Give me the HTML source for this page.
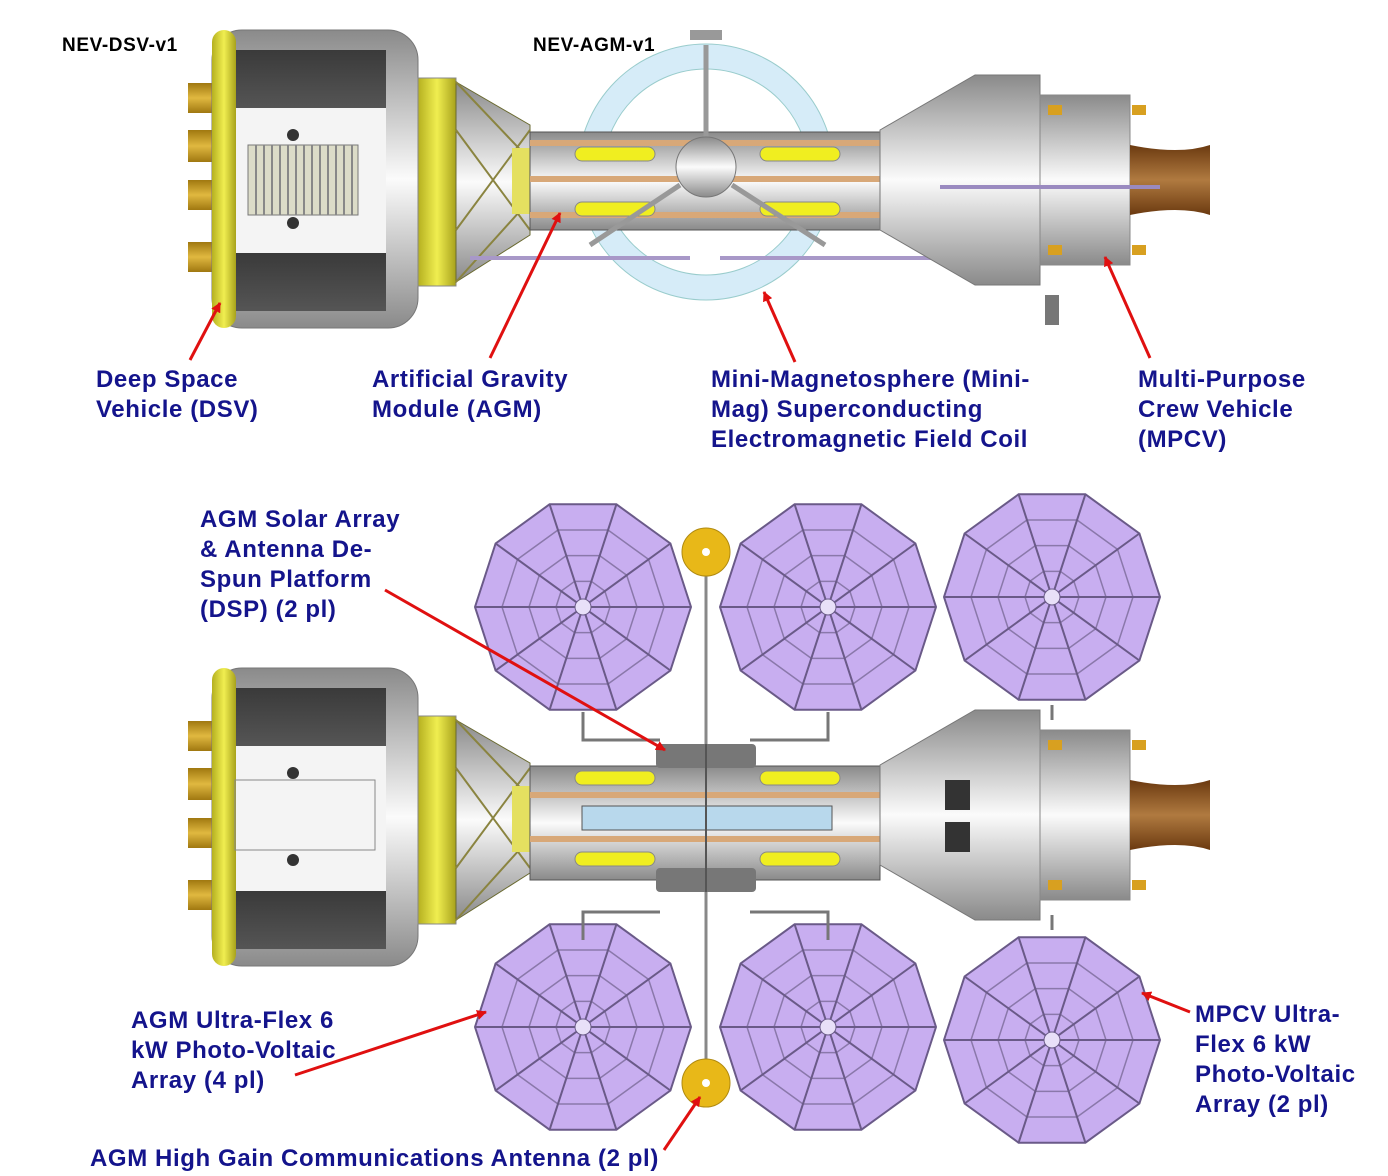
<!DOCTYPE html>
<html><head><meta charset="utf-8"><style>
html,body{margin:0;padding:0;background:#fff;}
svg{display:block;}
.lbl{font-family:"Liberation Sans",sans-serif;font-weight:bold;font-size:24px;letter-spacing:0.6px;fill:#14148c;}
.tit{font-family:"Liberation Sans",sans-serif;font-weight:bold;font-size:19px;letter-spacing:0.6px;fill:#000;}
</style></head><body>
<svg width="1388" height="1176" viewBox="0 0 1388 1176" xmlns="http://www.w3.org/2000/svg">
<defs>
<linearGradient id="gv" x1="0" y1="0" x2="0" y2="1"><stop offset="0" stop-color="#8a8a8a"/><stop offset="0.5" stop-color="#fbfbfb"/><stop offset="1" stop-color="#8a8a8a"/></linearGradient>
<linearGradient id="dk" x1="0" y1="0" x2="0" y2="1"><stop offset="0" stop-color="#3a3a3a"/><stop offset="1" stop-color="#555"/></linearGradient>
<linearGradient id="yl" x1="0" y1="0" x2="1" y2="0"><stop offset="0" stop-color="#b5b020"/><stop offset="0.5" stop-color="#f0ee50"/><stop offset="1" stop-color="#a8a21c"/></linearGradient>
<linearGradient id="br" x1="0" y1="0" x2="0" y2="1"><stop offset="0" stop-color="#6b3a10"/><stop offset="0.5" stop-color="#b07a40"/><stop offset="1" stop-color="#6b3a10"/></linearGradient>
<linearGradient id="gd" x1="0" y1="0" x2="0" y2="1"><stop offset="0" stop-color="#a07810"/><stop offset="0.5" stop-color="#e0b840"/><stop offset="1" stop-color="#a07810"/></linearGradient>
<marker id="ah" markerWidth="10" markerHeight="10" refX="9" refY="5" orient="auto" markerUnits="userSpaceOnUse" viewBox="0 0 10 10"><path d="M0,0 L10,5 L0,10 z" fill="#e01010"/></marker>

<g id="dsv">
  <rect x="-24" y="53" width="26" height="30" fill="url(#gd)"/>
  <rect x="-24" y="100" width="26" height="32" fill="url(#gd)"/>
  <rect x="-24" y="150" width="26" height="30" fill="url(#gd)"/>
  <rect x="-24" y="212" width="26" height="30" fill="url(#gd)"/>
  <rect x="0" y="0" width="206" height="298" rx="30" fill="url(#gv)" stroke="#777"/>
  <rect x="0" y="0" width="24" height="298" rx="12" fill="url(#yl)"/>
  <rect x="24" y="20" width="150" height="58" fill="url(#dk)"/>
  <rect x="24" y="223" width="150" height="58" fill="url(#dk)"/>
  <rect x="24" y="78" width="150" height="145" fill="#f4f4f4"/>
  <rect x="206" y="48" width="38" height="208" fill="url(#yl)" stroke="#888"/>
  <polygon points="244,52 318,95 318,205 244,252" fill="url(#gv)" stroke="#6a6a30"/>
  <path d="M244,52 L318,130 M244,252 L318,170 M244,100 L318,200 M244,200 L318,100" stroke="#8a8440" stroke-width="2"/>
  <rect x="300" y="118" width="18" height="66" fill="#e4e060"/>
</g>

<g id="sa">
  <polygon points="108,0 87.4,63.5 33.4,102.7 -33.4,102.7 -87.4,63.5 -108,0 -87.4,-63.5 -33.4,-102.7 33.4,-102.7 87.4,-63.5" fill="#c8aef0" stroke="#6a5a88" stroke-width="2"/>
  <polygon transform="scale(0.75)" points="108,0 87.4,63.5 33.4,102.7 -33.4,102.7 -87.4,63.5 -108,0 -87.4,-63.5 -33.4,-102.7 33.4,-102.7 87.4,-63.5" fill="none" stroke="#8a78aa" stroke-width="2"/>
  <polygon transform="scale(0.5)" points="108,0 87.4,63.5 33.4,102.7 -33.4,102.7 -87.4,63.5 -108,0 -87.4,-63.5 -33.4,-102.7 33.4,-102.7 87.4,-63.5" fill="none" stroke="#8a78aa" stroke-width="3"/>
  <polygon transform="scale(0.25)" points="108,0 87.4,63.5 33.4,102.7 -33.4,102.7 -87.4,63.5 -108,0 -87.4,-63.5 -33.4,-102.7 33.4,-102.7 87.4,-63.5" fill="none" stroke="#8a78aa" stroke-width="6"/>
  <path d="M-108,0 L108,0 M87.4,63.5 L-87.4,-63.5 M33.4,102.7 L-33.4,-102.7 M-33.4,102.7 L33.4,-102.7 M-87.4,63.5 L87.4,-63.5" stroke="#6a5a88" stroke-width="2"/>
  <circle r="8" fill="#e8e0f8" stroke="#6a5a88"/>
</g>

<g id="mpcv">
  <polygon points="0,55 95,0 160,0 160,210 95,210 0,155" fill="url(#gv)" stroke="#777"/>
  <rect x="160" y="20" width="90" height="170" fill="url(#gv)" stroke="#888"/>
  <path d="M250,70 Q300,80 330,70 L330,140 Q300,130 250,140z" fill="url(#br)"/>
  <rect x="168" y="30" width="14" height="10" fill="#d8a020"/>
  <rect x="252" y="30" width="14" height="10" fill="#d8a020"/>
  <rect x="168" y="170" width="14" height="10" fill="#d8a020"/>
  <rect x="252" y="170" width="14" height="10" fill="#d8a020"/>
</g>
</defs>

<text class="tit" x="62" y="51">NEV-DSV-v1</text>
<text class="tit" x="533" y="51">NEV-AGM-v1</text>

<!-- TOP -->
<use href="#dsv" x="212" y="30"/>
<rect x="248" y="145" width="110" height="70" fill="#dcdcc8" stroke="#777"/>
<path d="M256,145v70M264,145v70M272,145v70M280,145v70M288,145v70M296,145v70M304,145v70M312,145v70M320,145v70M328,145v70M336,145v70M344,145v70M352,145v70" stroke="#888" stroke-width="2"/>
<circle cx="293" cy="135" r="6" fill="#333"/><circle cx="293" cy="223" r="6" fill="#333"/>
<circle cx="706" cy="172" r="128" fill="#d6ecf8" stroke="#9cc" stroke-width="1"/>
<circle cx="706" cy="172" r="103" fill="#fff" stroke="#9cc"/>
<rect x="530" y="132" width="350" height="98" fill="url(#gv)" stroke="#555"/>
<rect x="530" y="140" width="350" height="6" fill="#d8a878"/>
<rect x="530" y="176" width="350" height="6" fill="#d8a878"/>
<rect x="530" y="212" width="350" height="6" fill="#d8a878"/>
<rect x="575" y="147" width="80" height="14" rx="7" fill="#f0ee20" stroke="#888"/>
<rect x="760" y="147" width="80" height="14" rx="7" fill="#f0ee20" stroke="#888"/>
<rect x="575" y="202" width="80" height="14" rx="7" fill="#f0ee20" stroke="#888"/>
<rect x="760" y="202" width="80" height="14" rx="7" fill="#f0ee20" stroke="#888"/>
<path d="M706,45 V140 M680,185 L590,245 M732,185 L825,245" stroke="#999" stroke-width="5"/>
<circle cx="706" cy="167" r="30" fill="url(#gv)" stroke="#777"/>
<rect x="690" y="30" width="32" height="10" fill="#999"/>
<rect x="470" y="256" width="220" height="4" fill="#a898c8"/>
<rect x="720" y="256" width="218" height="4" fill="#a898c8"/>
<use href="#mpcv" x="880" y="75"/>
<rect x="940" y="185" width="220" height="4" fill="#9a8ac0"/>
<rect x="1045" y="295" width="14" height="30" fill="#777"/>

<!-- labels top -->
<text class="lbl" x="96" y="387">Deep Space</text>
<text class="lbl" x="96" y="417">Vehicle (DSV)</text>
<text class="lbl" x="372" y="387">Artificial Gravity</text>
<text class="lbl" x="372" y="417">Module (AGM)</text>
<text class="lbl" x="711" y="387">Mini-Magnetosphere (Mini-</text>
<text class="lbl" x="711" y="417">Mag) Superconducting</text>
<text class="lbl" x="711" y="447">Electromagnetic Field Coil</text>
<text class="lbl" x="1138" y="387">Multi-Purpose</text>
<text class="lbl" x="1138" y="417">Crew Vehicle</text>
<text class="lbl" x="1138" y="447">(MPCV)</text>

<!-- BOTTOM -->
<line x1="706" y1="560" x2="706" y2="1080" stroke="#888" stroke-width="3"/>
<use href="#sa" x="583" y="607"/>
<use href="#sa" x="828" y="607"/>
<use href="#sa" x="1052" y="597"/>
<use href="#sa" x="583" y="1027"/>
<use href="#sa" x="828" y="1027"/>
<use href="#sa" x="1052" y="1040"/>
<circle cx="706" cy="552" r="24" fill="#e8b818" stroke="#b08a10"/><circle cx="706" cy="552" r="4" fill="#fff"/>
<circle cx="706" cy="1083" r="24" fill="#e8b818" stroke="#b08a10"/><circle cx="706" cy="1083" r="4" fill="#fff"/>
<path d="M583,712 V740 H660 M828,712 V740 H750 M583,940 V912 H660 M828,940 V912 H750 M1052,705 V720 M1052,930 V915" stroke="#777" stroke-width="3" fill="none"/>
<use href="#dsv" x="212" y="668"/>
<rect x="235" y="780" width="140" height="70" fill="none" stroke="#888"/>
<circle cx="293" cy="773" r="6" fill="#333"/><circle cx="293" cy="860" r="6" fill="#333"/>
<rect x="530" y="766" width="350" height="114" fill="url(#gv)" stroke="#555"/>
<rect x="530" y="792" width="350" height="6" fill="#d8a878"/>
<rect x="530" y="836" width="350" height="6" fill="#d8a878"/>
<rect x="582" y="806" width="250" height="24" fill="#b8d8ec" stroke="#555"/>
<rect x="575" y="771" width="80" height="14" rx="7" fill="#f0ee20" stroke="#888"/>
<rect x="760" y="771" width="80" height="14" rx="7" fill="#f0ee20" stroke="#888"/>
<rect x="575" y="852" width="80" height="14" rx="7" fill="#f0ee20" stroke="#888"/>
<rect x="760" y="852" width="80" height="14" rx="7" fill="#f0ee20" stroke="#888"/>
<rect x="656" y="744" width="100" height="24" rx="4" fill="#777"/>
<rect x="656" y="868" width="100" height="24" rx="4" fill="#777"/>
<line x1="706" y1="744" x2="706" y2="892" stroke="#555" stroke-width="2"/>
<use href="#mpcv" x="880" y="710"/>
<rect x="945" y="780" width="25" height="30" fill="#333"/><rect x="945" y="822" width="25" height="30" fill="#333"/>

<!-- labels bottom -->
<text class="lbl" x="200" y="527">AGM Solar Array</text>
<text class="lbl" x="200" y="557">&amp; Antenna De-</text>
<text class="lbl" x="200" y="587">Spun Platform</text>
<text class="lbl" x="200" y="617">(DSP) (2 pl)</text>
<text class="lbl" x="131" y="1028">AGM Ultra-Flex 6</text>
<text class="lbl" x="131" y="1058">kW Photo-Voltaic</text>
<text class="lbl" x="131" y="1088">Array (4 pl)</text>
<text class="lbl" x="1195" y="1022">MPCV Ultra-</text>
<text class="lbl" x="1195" y="1052">Flex 6 kW</text>
<text class="lbl" x="1195" y="1082">Photo-Voltaic</text>
<text class="lbl" x="1195" y="1112">Array (2 pl)</text>
<text class="lbl" x="90" y="1166">AGM High Gain Communications Antenna (2 pl)</text>

<!-- arrows -->
<g stroke="#e01010" stroke-width="3" fill="none" marker-end="url(#ah)">
<line x1="190" y1="360" x2="220" y2="303"/>
<line x1="490" y1="358" x2="560" y2="213"/>
<line x1="795" y1="362" x2="764" y2="292"/>
<line x1="1150" y1="358" x2="1105" y2="257"/>
<line x1="385" y1="590" x2="665" y2="750"/>
<line x1="295" y1="1075" x2="486" y2="1012"/>
<line x1="1190" y1="1012" x2="1142" y2="993"/>
<line x1="664" y1="1150" x2="700" y2="1097"/>
</g>
</svg>
</body></html>
